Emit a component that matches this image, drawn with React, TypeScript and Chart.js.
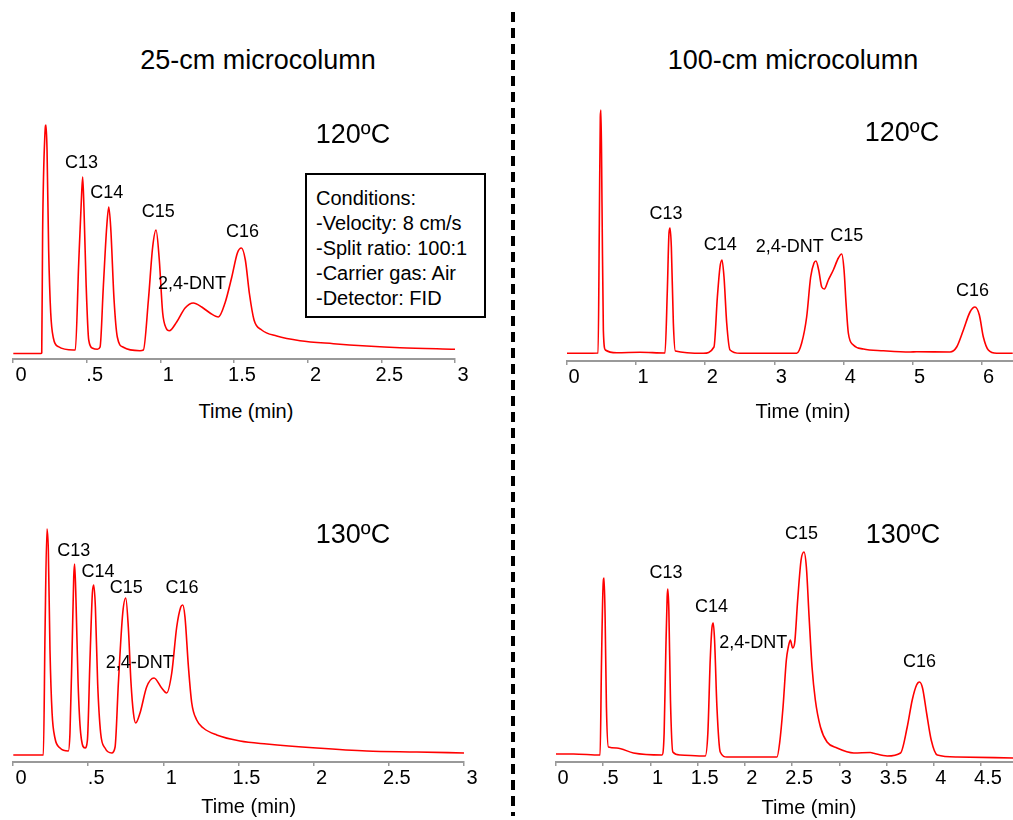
import React, { useEffect, useRef } from 'react';
import { Chart, registerables } from 'chart.js';

Chart.register(...registerables);

const FONT = '"Liberation Sans", Arial, Helvetica, sans-serif';

// ---------- Panel A: 25-cm microcolumn, 120ºC ----------
const A_TIME = [0.002, 0.19, 0.195, 0.201, 0.217, 0.224, 0.231, 0.242, 0.256, 0.274, 0.308, 0.41, 0.423, 0.446, 0.464, 0.473, 0.482, 0.496, 0.514, 0.541, 0.573, 0.591, 0.613, 0.636, 0.65, 0.663, 0.686, 0.708, 0.749, 0.862, 0.885, 0.919, 0.948, 0.971, 0.993, 1.016, 1.039, 1.061, 1.111, 1.168, 1.224, 1.281, 1.337, 1.394, 1.439, 1.485, 1.523, 1.55, 1.577, 1.604, 1.636, 1.688, 1.79, 1.948, 2.175, 2.401, 2.627, 3.0];
const A_SIGNAL = [5.5, 5.5, 6, 126, 226, 234, 209, 109, 46, 21, 12.3, 9, 9, 96, 159, 182, 149, 76, 19, 10.7, 9.7, 12, 72, 132, 152, 132, 59, 22, 11.7, 8.3, 9, 59, 112, 129, 99, 46, 31, 28.3, 37, 51, 56, 52, 46, 42, 56, 82, 106, 111, 99, 66, 39, 29, 23, 18.3, 15.3, 13, 11.3, 9.7];
const A_PEAK_NAMES = ['C13', 'C14', 'C15', '2,4-DNT', 'C16'];
const A_PEAK_TIME = [0.465, 0.636, 0.986, 1.215, 1.558];
const A_PEAK_SIGNAL = [195.7, 166.3, 147.3, 74.7, 126.7];
const A_TICKS = [0, 0.5, 1, 1.5, 2, 2.5, 3];
const A_TICK_LABELS = ['0', '.5', '1', '1.5', '2', '2.5', '3'];

// ---------- Panel B: 100-cm microcolumn, 120ºC ----------
const B_TIME = [0, 0.45, 0.468, 0.482, 0.492, 0.507, 0.526, 0.555, 0.72, 1.056, 1.418, 1.452, 1.476, 1.491, 1.51, 1.539, 1.568, 1.973, 2.127, 2.176, 2.214, 2.243, 2.272, 2.311, 2.359, 2.504, 3.324, 3.396, 3.468, 3.526, 3.574, 3.603, 3.642, 3.686, 3.724, 3.782, 3.854, 3.927, 3.975, 4.009, 4.038, 4.071, 4.144, 4.289, 4.578, 4.964, 5.06, 5.543, 5.639, 5.736, 5.832, 5.904, 5.967, 6.025, 6.097, 6.218, 6.45];
const B_SIGNAL = [7.7, 8, 138, 244, 251, 154, 31, 11, 8.3, 8.7, 8, 71, 128, 133, 114, 38, 10, 7.7, 14, 64, 94, 101, 84, 38, 11, 7.7, 7.7, 18, 44, 84, 98, 100, 91, 74, 72, 81, 91, 103, 107, 91, 58, 28, 16, 12, 10.3, 9, 9.3, 9, 14, 31, 49, 54, 46, 24, 11, 7.7, 7.7];
const B_PEAK_NAMES = ['C13', 'C14', '2,4-DNT', 'C15', 'C16'];
const B_PEAK_TIME = [1.433, 2.219, 3.223, 4.048, 5.868];
const B_PEAK_SIGNAL = [147, 116, 113.7, 125.3, 70.3];
const B_TICKS = [0, 1, 2, 3, 4, 5, 6];
const B_TICK_LABELS = ['0', '1', '2', '3', '4', '5', '6'];

// ---------- Panel C: 25-cm microcolumn, 130ºC ----------
const C_TIME = [0.002, 0.202, 0.213, 0.226, 0.235, 0.246, 0.26, 0.279, 0.313, 0.368, 0.379, 0.393, 0.404, 0.41, 0.419, 0.433, 0.45, 0.479, 0.495, 0.512, 0.528, 0.537, 0.548, 0.563, 0.583, 0.612, 0.657, 0.679, 0.701, 0.73, 0.75, 0.767, 0.785, 0.801, 0.816, 0.845, 0.889, 0.938, 0.989, 1.022, 1.056, 1.089, 1.116, 1.129, 1.144, 1.167, 1.189, 1.222, 1.266, 1.355, 1.51, 1.688, 2.02, 2.353, 2.686, 3.0];
const C_SIGNAL = [7, 7, 129, 233, 212, 112, 49, 24, 14, 11, 29, 112, 185, 198, 162, 79, 29, 14, 22, 102, 169, 177, 155, 79, 29, 14, 9, 15, 79, 149, 164, 135, 79, 49, 39, 49, 75, 84, 74, 69, 89, 135, 155, 157, 145, 95, 59, 42, 34, 27, 21, 18, 14, 11, 10, 9];
const C_PEAK_NAMES = ['C13', 'C14', 'C15', 'C16', '2,4-DNT'];
const C_PEAK_TIME = [0.404, 0.565, 0.754, 1.125, 0.843];
const C_PEAK_SIGNAL = [211.3, 190.3, 173.7, 173.7, 98.7];
const C_TICKS = [0, 0.5, 1, 1.5, 2, 2.5, 3];
const C_TICK_LABELS = ['0', '.5', '1', '1.5', '2', '2.5', '3'];

// ---------- Panel D: 100-cm microcolumn, 130ºC ----------
const D_TIME = [0, 0.184, 0.467, 0.481, 0.498, 0.509, 0.52, 0.534, 0.555, 0.643, 0.82, 1.121, 1.145, 1.163, 1.177, 1.184, 1.195, 1.212, 1.237, 1.315, 1.58, 1.608, 1.633, 1.651, 1.665, 1.679, 1.704, 1.739, 1.81, 2.34, 2.368, 2.404, 2.439, 2.46, 2.481, 2.506, 2.527, 2.559, 2.595, 2.626, 2.651, 2.68, 2.711, 2.746, 2.8, 2.87, 2.976, 3.153, 3.33, 3.365, 3.507, 3.648, 3.719, 3.772, 3.818, 3.849, 3.881, 3.924, 3.973, 4.037, 4.249, 4.84];
const D_SIGNAL = [8, 8, 7, 95, 175, 184, 145, 55, 15, 14, 9, 7, 29, 112, 165, 173, 152, 62, 10, 7, 6, 29, 102, 134, 139, 122, 55, 10, 5, 5, 19, 55, 102, 115, 122, 114, 119, 162, 202, 210, 195, 145, 95, 62, 35, 20, 14, 9, 9.5, 8.7, 6, 9, 35, 62, 77, 80, 74, 49, 22, 7, 5, 4];
const D_PEAK_NAMES = ['C13', 'C14', '2,4-DNT', 'C15', 'C16'];
const D_PEAK_TIME = [1.166, 1.646, 2.088, 2.6, 3.848];
const D_PEAK_SIGNAL = [189.3, 155.3, 118.7, 228, 100.3];
const D_TICKS = [0, 0.5, 1, 1.5, 2, 2.5, 3, 3.5, 4, 4.5];
const D_TICK_LABELS = ['0', '.5', '1', '1.5', '2', '2.5', '3', '3.5', '4', '4.5'];

const COLUMN_TITLES = ['25-cm microcolumn', '100-cm microcolumn'];
const TEMPERATURES = ['120ºC', '120ºC', '130ºC', '130ºC'];
const CONDITIONS = ['Conditions:', '-Velocity: 8 cm/s', '-Split ratio: 100:1', '-Carrier gas: Air', '-Detector: FID'];
const AXIS_TITLE = 'Time (min)';

type PanelDef = {
  time: number[];
  signal: number[];
  names: string[];
  peakTime: number[];
  peakSignal: number[];
  ticks: number[];
  tickLabels: string[];
  xMax: number;
  yMax: number;
  left: number;
  top: number;
  width: number;
  height: number;
  padLeft: number;
  padRight: number;
  labelOffset: number;
};

const AXIS_H = 40;

const PANELS: PanelDef[] = [
  { time: A_TIME, signal: A_SIGNAL, names: A_PEAK_NAMES, peakTime: A_PEAK_TIME, peakSignal: A_PEAK_SIGNAL, ticks: A_TICKS, tickLabels: A_TICK_LABELS, xMax: 3, yMax: 259, left: 0, top: 90, width: 500, height: 269 + AXIS_H, padLeft: 13, padRight: 45, labelOffset: 8 },
  { time: B_TIME, signal: B_SIGNAL, names: B_PEAK_NAMES, peakTime: B_PEAK_TIME, peakSignal: B_PEAK_SIGNAL, ticks: B_TICKS, tickLabels: B_TICK_LABELS, xMax: 6.454, yMax: 261, left: 540, top: 90, width: 473, height: 271 + AXIS_H, padLeft: 27, padRight: 0, labelOffset: 7 },
  { time: C_TIME, signal: C_SIGNAL, names: C_PEAK_NAMES, peakTime: C_PEAK_TIME, peakSignal: C_PEAK_SIGNAL, ticks: C_TICKS, tickLabels: C_TICK_LABELS, xMax: 3, yMax: 262, left: 0, top: 490, width: 500, height: 272 + AXIS_H, padLeft: 13, padRight: 36, labelOffset: 8 },
  { time: D_TIME, signal: D_SIGNAL, names: D_PEAK_NAMES, peakTime: D_PEAK_TIME, peakSignal: D_PEAK_SIGNAL, ticks: D_TICKS, tickLabels: D_TICK_LABELS, xMax: 4.839, yMax: 262, left: 540, top: 490, width: 473, height: 272 + AXIS_H, padLeft: 16, padRight: 0, labelOffset: 7 },
];

const peakLabelPlugin = {
  id: 'peakLabels',
  afterDatasetsDraw(chart: any, _args: any, opts: any) {
    const { ctx } = chart;
    const xs = chart.scales.x;
    const ys = chart.scales.y;
    ctx.save();
    ctx.font = `18px ${FONT}`;
    ctx.fillStyle = '#000';
    ctx.textAlign = 'center';
    ctx.textBaseline = 'middle';
    opts.names.forEach((n: string, i: number) => {
      ctx.fillText(n, xs.getPixelForValue(opts.peakTime[i]), ys.getPixelForValue(opts.peakSignal[i]));
    });
    ctx.restore();
  },
};

function Panel({ def }: { def: PanelDef }) {
  const ref = useRef<HTMLCanvasElement>(null);
  useEffect(() => {
    if (!ref.current) return;
    const chart = new Chart(ref.current, {
      type: 'line',
      data: {
        datasets: [
          {
            data: def.time.map((t, i) => ({ x: t, y: def.signal[i] })),
            borderColor: '#ff0000',
            borderWidth: 1.6,
            pointRadius: 0,
            cubicInterpolationMode: 'monotone',
            fill: false,
          },
        ],
      },
      options: {
        animation: false,
        responsive: false,
        maintainAspectRatio: false,
        events: [],
        layout: { padding: { left: def.padLeft, right: def.padRight, top: 10, bottom: 0 } },
        plugins: {
          legend: { display: false },
          tooltip: { enabled: false },
          title: { display: false },
          peakLabels: { names: def.names, peakTime: def.peakTime, peakSignal: def.peakSignal },
        } as any,
        scales: {
          x: {
            type: 'linear',
            min: 0,
            max: def.xMax,
            afterBuildTicks: (scale: any) => {
              scale.ticks = def.ticks.map((value) => ({ value }));
            },
            afterFit: (scale: any) => {
              scale.height = AXIS_H;
            },
            ticks: {
              autoSkip: false,
              maxRotation: 0,
              minRotation: 0,
              padding: 0.5,
              labelOffset: def.labelOffset,
              color: '#000',
              font: { family: FONT, size: 20 },
              callback: (_v: any, i: number) => def.tickLabels[i],
            },
            grid: { display: true, drawOnChartArea: false, drawTicks: true, tickLength: 4, color: '#999', lineWidth: 1.5 },
            border: { display: true, color: '#999', width: 2 },
          },
          y: { display: false, min: 0, max: def.yMax },
        },
      } as any,
      plugins: [peakLabelPlugin],
    });
    return () => chart.destroy();
  }, [def]);
  return (
    <canvas
      ref={ref}
      width={def.width}
      height={def.height}
      style={{ position: 'absolute', left: def.left, top: def.top, width: def.width, height: def.height }}
    />
  );
}

function Text({ text, cx, capY, size, lh }: { text: string; cx: number; capY: number; size: number; lh: number }) {
  // position so that cap-height centre sits at capY
  const capCenter = (lh - 1.117 * size) / 2 + 0.905 * size - 0.358 * size;
  return (
    <div
      style={{
        position: 'absolute',
        left: cx - 200,
        width: 400,
        top: capY - capCenter,
        textAlign: 'center',
        fontFamily: FONT,
        fontSize: size,
        lineHeight: `${lh}px`,
        color: '#000',
        whiteSpace: 'nowrap',
      }}
    >
      {text}
    </div>
  );
}

export default function App() {
  return (
    <div style={{ position: 'absolute', left: 0, top: 0, width: 1013, height: 820, background: '#fff', overflow: 'hidden' }}>
      {PANELS.map((p, i) => (
        <Panel key={i} def={p} />
      ))}
      <Text text={COLUMN_TITLES[0]} cx={258} capY={60} size={27} lh={32} />
      <Text text={COLUMN_TITLES[1]} cx={793} capY={60} size={27} lh={32} />
      <Text text={TEMPERATURES[0]} cx={353} capY={133.3} size={27} lh={32} />
      <Text text={TEMPERATURES[1]} cx={902} capY={131.7} size={27} lh={32} />
      <Text text={TEMPERATURES[2]} cx={353} capY={533.3} size={27} lh={32} />
      <Text text={TEMPERATURES[3]} cx={903} capY={533.7} size={27} lh={32} />
      <Text text={AXIS_TITLE} cx={246} capY={410.8} size={20} lh={24} />
      <Text text={AXIS_TITLE} cx={803} capY={410.8} size={20} lh={24} />
      <Text text={AXIS_TITLE} cx={248.7} capY={805.8} size={20} lh={24} />
      <Text text={AXIS_TITLE} cx={809} capY={806.5} size={20} lh={24} />
      <div
        style={{
          position: 'absolute',
          left: 305,
          top: 173,
          width: 181,
          height: 145,
          boxSizing: 'border-box',
          border: '2px solid #000',
          paddingLeft: 9,
          paddingTop: 11,
          fontFamily: FONT,
          fontSize: 20,
          lineHeight: '25px',
          color: '#000',
          whiteSpace: 'nowrap',
          background: '#fff',
        }}
      >
        {CONDITIONS.map((c, i) => (
          <div key={i}>{c}</div>
        ))}
      </div>
      <div
        style={{
          position: 'absolute',
          left: 511,
          top: 12,
          width: 4,
          height: 804,
          background: 'repeating-linear-gradient(to bottom, #000 0px, #000 10px, transparent 10px, transparent 16px)',
        }}
      />
    </div>
  );
}
